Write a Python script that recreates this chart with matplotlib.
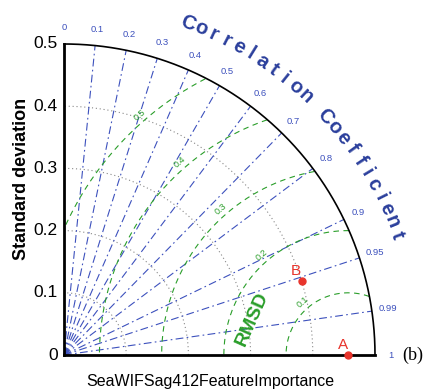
import numpy as np
import matplotlib
matplotlib.use("Agg")
import matplotlib.pyplot as plt

# reference + model statistics
ref_std = 0.457
labels = ["A", "B"]
stds = [0.457, 0.40]
corrs = [1.0, 0.955]

# grid values
corr_ticks = [0.1, 0.2, 0.3, 0.4, 0.5, 0.6, 0.7, 0.8, 0.9, 0.95, 0.99]
corr_labels = ["0", "0.1", "0.2", "0.3", "0.4", "0.5", "0.6", "0.7", "0.8", "0.9", "0.95", "0.99", "1"]
corr_label_vals = [0, 0.1, 0.2, 0.3, 0.4, 0.5, 0.6, 0.7, 0.8, 0.9, 0.95, 0.99, 1.0]
std_ticks = [0.1, 0.2, 0.3, 0.4]
std_labels = ["0", "0.1", "0.2", "0.3", "0.4", "0.5"]
rms_ticks = [0.1, 0.2, 0.3, 0.4, 0.5]
smax = 0.5

blue = "#3d51bd"
title_blue = "#2b3f9c"
green = "#2a9e2a"
red = "#e8342c"

plt.rcParams['font.family'] = ['Liberation Sans', 'DejaVu Sans']

fig = plt.figure(figsize=(4.3, 3.89), dpi=100)
ax = fig.add_axes([0, 0, 1, 1])
s = 622.0
ax.set_xlim(-64 / s, (430 - 64) / s)
ax.set_ylim(-34 / s, 355 / s)
ax.axis("off")

# std arcs
t = np.linspace(0, np.pi / 2, 300)
for r in std_ticks:
    ax.plot(r * np.cos(t), r * np.sin(t), color="#888888", ls=(0, (1, 2.5)), lw=0.8)

# correlation lines
for c in corr_ticks:
    a = np.arccos(c)
    ax.plot([0, smax * np.cos(a)], [0, smax * np.sin(a)], color=blue,
            ls=(0, (7, 3, 1.5, 3)), lw=0.8)

# rmsd circles
tt = np.linspace(0, np.pi, 800)
for r in rms_ticks:
    x = ref_std + r * np.cos(tt)
    y = r * np.sin(tt)
    bad = (x ** 2 + y ** 2 > smax ** 2) | (x < 0)
    x[bad] = np.nan
    y[bad] = np.nan
    ax.plot(x, y, color=green, ls=(0, (5, 4)), lw=0.8)
    ang = np.deg2rad(131)
    ax.text(ref_std + (r + 0.012) * np.cos(ang), (r + 0.012) * np.sin(ang), f"{r:g}",
            color=green, fontsize=6.5, rotation=41, ha="center", va="center")

# frame
ax.plot(smax * np.cos(t), smax * np.sin(t), color="black", lw=1.2)
ax.plot([0, smax], [0, 0], color="black", lw=2)
ax.plot([0, 0], [0, smax], color="black", lw=2)

# correlation tick labels
for c, lab in zip(corr_label_vals, corr_labels):
    a = np.arccos(c)
    ax.text(0.526 * np.cos(a), 0.526 * np.sin(a), lab, color=blue, fontsize=6.8,
            ha="center", va="center")

# curved title
title = "Correlation Coefficient"
a0, da = 69.5, (69.5 - 19.8) / (len(title) - 1)
for i, ch in enumerate(title):
    a = np.deg2rad(a0 - i * da)
    ax.text(0.569 * np.cos(a), 0.569 * np.sin(a), ch, color=title_blue, fontsize=14.5,
            fontweight="bold", rotation=np.rad2deg(a) - 90, ha="center", va="center",
            rotation_mode="anchor")

# std tick labels
for i, lab in enumerate(std_labels):
    ax.text(-0.01, i * 0.1, lab, fontsize=12.5, ha="right", va="center")
ax.text(-0.069, 0.283, "Standard deviation", fontsize=13, fontweight="bold",
        rotation=90, ha="center", va="center")
ax.text(0.235, -0.042, "SeaWIFSag412FeatureImportance", fontsize=11.5, ha="center", va="center")
ax.text(0.56, 0.0, "(b)", fontsize=13, family=["Liberation Serif"], ha="center", va="center")

ax.text(0.302, 0.058, "RMSD", color=green, fontsize=14, fontweight="bold", rotation=66,
        ha="center", va="center")

# points
for lab, sd, cc in zip(labels, stds, corrs):
    a = np.arccos(cc)
    px, py = sd * np.cos(a), sd * np.sin(a)
    ax.plot(px, py, "o", color=red, ms=5, clip_on=False)
    ax.annotate(lab, (px, py), xytext=(-4, 2), textcoords="offset points", color=red,
                fontsize=11, ha="center", va="bottom")

fig.savefig("out.png", dpi=100)
